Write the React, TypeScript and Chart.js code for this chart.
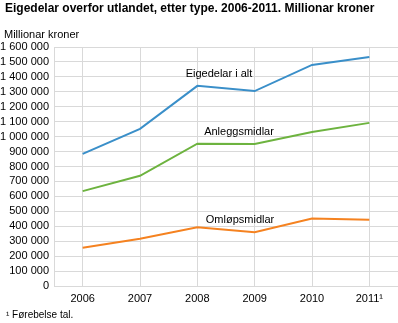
import React, { useEffect, useRef } from "react";
import { Chart, registerables } from "chart.js";

Chart.register(...registerables);

const years = ["2006", "2007", "2008", "2009", "2010", "2011¹"];
const eigedelarIAlt = [885000, 1052000, 1340000, 1305000, 1480000, 1533000];
const anleggsmidlar = [635000, 738000, 953000, 950000, 1031000, 1092000];
const omlopsmidlar = [256000, 316000, 394000, 360000, 452000, 443000];

const titleText = "Eigedelar overfor utlandet, etter type. 2006-2011. Millionar kroner";
const unitText = "Millionar kroner";
const footnoteText = "¹ Førebelse tal.";
const seriesNames = ["Eigedelar i alt", "Anleggsmidlar", "Omløpsmidlar"];

const FONT = "'Liberation Sans', Arial, sans-serif";

const fmt = (v: number) => String(v).replace(/\B(?=(\d{3})+(?!\d))/g, " ");

const textPlugin = {
  id: "texts",
  afterDraw(chart: any) {
    const ctx = chart.ctx;
    ctx.save();
    ctx.fillStyle = "#000";
    ctx.textBaseline = "alphabetic";
    ctx.textAlign = "left";
    ctx.font = `bold 12px ${FONT}`;
    ctx.fillText(titleText, 5, 12);
    ctx.font = `11px ${FONT}`;
    ctx.fillText(unitText, 4, 38);
    ctx.font = `10px ${FONT}`;
    ctx.fillText(footnoteText, 6, 318);
    ctx.font = `11px ${FONT}`;
    ctx.textAlign = "center";
    ctx.fillText(seriesNames[0], 219, 77);
    ctx.fillText(seriesNames[1], 239, 135);
    ctx.fillText(seriesNames[2], 240, 223);
    ctx.restore();
  },
};

export default function App() {
  const ref = useRef<HTMLCanvasElement>(null);
  useEffect(() => {
    document.body.style.margin = "0";
    const grid = "#d9d9d9";
    const chart = new Chart(ref.current!, {
      type: "line",
      data: {
        labels: years,
        datasets: [
          { label: seriesNames[0], data: eigedelarIAlt, borderColor: "#3a8fc9", borderWidth: 2, pointRadius: 0, tension: 0 },
          { label: seriesNames[1], data: anleggsmidlar, borderColor: "#6db33f", borderWidth: 2, pointRadius: 0, tension: 0 },
          { label: seriesNames[2], data: omlopsmidlar, borderColor: "#f58220", borderWidth: 2, pointRadius: 0, tension: 0 },
        ],
      },
      options: {
        responsive: false,
        animation: false,
        layout: { padding: { top: 47, right: 0, left: 0, bottom: 0 } },
        plugins: { legend: { display: false }, tooltip: { enabled: false }, title: { display: false } },
        scales: {
          x: {
            offset: true,
            grid: { color: grid, drawTicks: false, offset: false },
            border: { color: grid },
            ticks: { color: "#000", font: { family: FONT, size: 11 }, padding: 6, maxRotation: 0, autoSkip: false },
            afterFit: (s: any) => { s.height = 37; },
          },
          y: {
            min: 0,
            max: 1600000,
            grid: { color: grid, drawTicks: false },
            border: { color: grid },
            ticks: { stepSize: 100000, autoSkip: false, color: "#000", font: { family: FONT, size: 11 }, padding: 5, callback: (v: any) => fmt(Number(v)) },
            afterFit: (s: any) => { s.width = 54; },
          },
        },
      },
      plugins: [textPlugin],
    });
    return () => chart.destroy();
  }, []);
  return (
    <div style={{ position: "absolute", left: 0, top: 0, width: 398, height: 323 }}>
      <canvas ref={ref} width={398} height={323} />
    </div>
  );
}
